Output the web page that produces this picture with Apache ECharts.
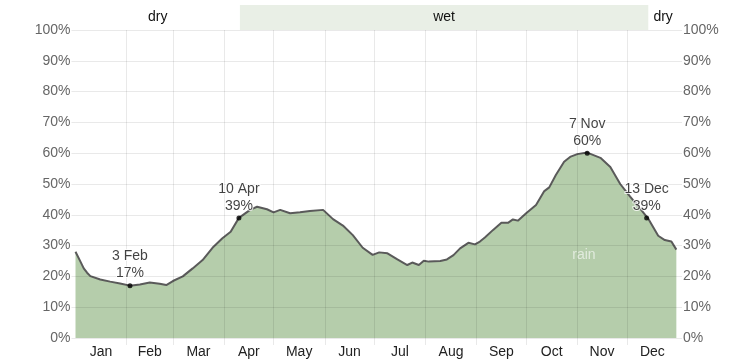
<!DOCTYPE html>
<html>
<head>
<meta charset="utf-8">
<script src="https://cdn.jsdelivr.net/npm/echarts@6/dist/echarts.min.js"></script>
<style>
html,body{margin:0;padding:0;background:#fff;}
#chart{width:753px;height:362px;}
</style>
</head>
<body>
<div id="chart"></div>
<script>
// Day of year (0 = 1 Jan) and chance of rain (%)
var days = [0,3,5,7,9,15,21,27,33,39,45,51,55,59,65,71,77,83,89,94,99,106,110,116,120,124,130,136,142,150,156,162,168,174,180,184,189,195,201,204,208,211,214,221,225,229,233,238,242,245,248,253,258,262,265,268,273,279,284,287,291,296,300,304,310,318,324,330,336,342,347,353,357,361,364];
var rainPct = [28,24.8,22.6,21.2,20.1,19,18.3,17.7,17,17.4,18,17.6,17.2,18.5,20,22.6,25.3,29.3,32.4,34.5,39,41.7,42.6,41.8,40.8,41.6,40.5,40.8,41.2,41.6,38.6,36.5,33.4,29.3,27,27.8,27.5,25.5,23.7,24.5,23.7,25.1,24.8,25,25.5,26.9,29.1,30.9,30.4,31.3,32.6,35.1,37.4,37.4,38.5,38.1,40.5,43.2,47.7,48.9,52.9,57.2,58.9,59.7,60.2,58.5,55.5,50,45.9,42.1,38.7,33.2,31.8,31.3,28.7];

var monthNames = ['Jan','Feb','Mar','Apr','May','Jun','Jul','Aug','Sep','Oct','Nov','Dec'];
var monthStarts = [31,59,90,120,151,181,212,243,273,304,334];
var monthMids = [15.5,45,74.5,105,135.5,166,196.5,227.5,258,288.5,319,349.5];

var annotDays = [33,99,310,346];
var annotVals = [17,39,60,39];
var annotText = ['3 Feb','10 Apr','7 Nov','13 Dec'];

var wetStart = 99.6, wetEnd = 347;
var seasonLabels = ['dry','wet','dry'];

var lineData = days.map(function(d,i){return [d, rainPct[i]];});
var annotData = annotDays.map(function(d,i){return {value:[d, annotVals[i]], name: annotText[i]};});

var font = '"Liberation Sans", Arial, sans-serif';
var gridCol = 'rgba(0,0,0,0.085)';

var chart = echarts.init(document.getElementById('chart'));
chart.setOption({
  animation: false,
  textStyle: {fontFamily: font},
  grid: [
    {left: 75.5, right: 75, top: 30, bottom: 24},
    {left: 75.5, right: 75, top: 5, height: 25}
  ],
  xAxis: [
    {
      type: 'value', min: 0, max: 365, gridIndex: 0, z: 5,
      axisLine: {show: false},
      axisTick: {show: true, customValues: monthStarts, length: 7, lineStyle: {color: gridCol}},
      splitLine: {show: true, lineStyle: {color: gridCol, width: 1}},
      axisLabel: {
        customValues: monthMids, color: '#222', fontSize: 14, margin: 7, fontFamily: font,
        formatter: function(v){ var i = monthMids.indexOf(v); return i >= 0 ? monthNames[i] : ''; }
      }
    },
    {
      type: 'value', min: 0, max: 365, gridIndex: 1, show: false
    }
  ],
  yAxis: [
    {
      type: 'value', min: 0, max: 100, interval: 10, gridIndex: 0, position: 'left', z: 5,
      axisLine: {show: false},
      axisTick: {show: true, length: 4, lineStyle: {color: gridCol}},
      splitLine: {show: true, lineStyle: {color: gridCol, width: 1}},
      axisLabel: {color: '#666', fontSize: 14, margin: 5, fontFamily: font, formatter: '{value}%'}
    },
    {
      type: 'value', min: 0, max: 100, interval: 10, gridIndex: 0, position: 'right', z: 5,
      axisLine: {show: false},
      axisTick: {show: true, length: 4, lineStyle: {color: gridCol}},
      splitLine: {show: false},
      axisLabel: {color: '#666', fontSize: 14, margin: 5, fontFamily: font, formatter: '{value}%'}
    },
    {type: 'value', min: 0, max: 1, gridIndex: 1, show: false}
  ],
  series: [
    {
      type: 'line', xAxisIndex: 0, yAxisIndex: 0,
      data: lineData, showSymbol: false, smooth: false,
      lineStyle: {color: '#5a5a5a', width: 2},
      areaStyle: {color: '#b5cdab', opacity: 1},
      z: 2
    },
    {
      type: 'scatter', xAxisIndex: 0, yAxisIndex: 0,
      data: annotData, symbolSize: 5, itemStyle: {color: '#000'}, z: 6,
      label: {
        show: true, position: 'top', distance: 1, color: '#111', fontSize: 14, lineHeight: 17,
        fontFamily: font, textBorderColor: '#fff', textBorderWidth: 2,
        formatter: function(p){ return p.name + '\n' + p.value[1] + '%'; }
      }
    },
    {
      type: 'scatter', xAxisIndex: 0, yAxisIndex: 0,
      data: [{value: [308, 27], name: 'rain'}], symbolSize: 0, z: 6,
      label: {show: true, position: 'inside', color: 'rgba(255,255,255,0.75)', fontSize: 14, fontFamily: font,
        formatter: function(p){ return p.name; }}
    },
    {
      type: 'line', xAxisIndex: 1, yAxisIndex: 2, data: [[0,0]], showSymbol: false,
      lineStyle: {opacity: 0},
      markArea: {
        silent: true,
        label: {show: true, position: 'inside', color: '#111', fontSize: 14, fontFamily: font},
        data: [
          [{name: seasonLabels[0], xAxis: 0, itemStyle: {color: 'rgba(0,0,0,0)'}}, {xAxis: wetStart}],
          [{name: seasonLabels[1], xAxis: wetStart, itemStyle: {color: '#e9efe6'}}, {xAxis: wetEnd}],
          [{name: seasonLabels[2], xAxis: wetEnd, itemStyle: {color: 'rgba(0,0,0,0)'}}, {xAxis: 365}]
        ]
      }
    }
  ]
});
</script>
</body>
</html>
